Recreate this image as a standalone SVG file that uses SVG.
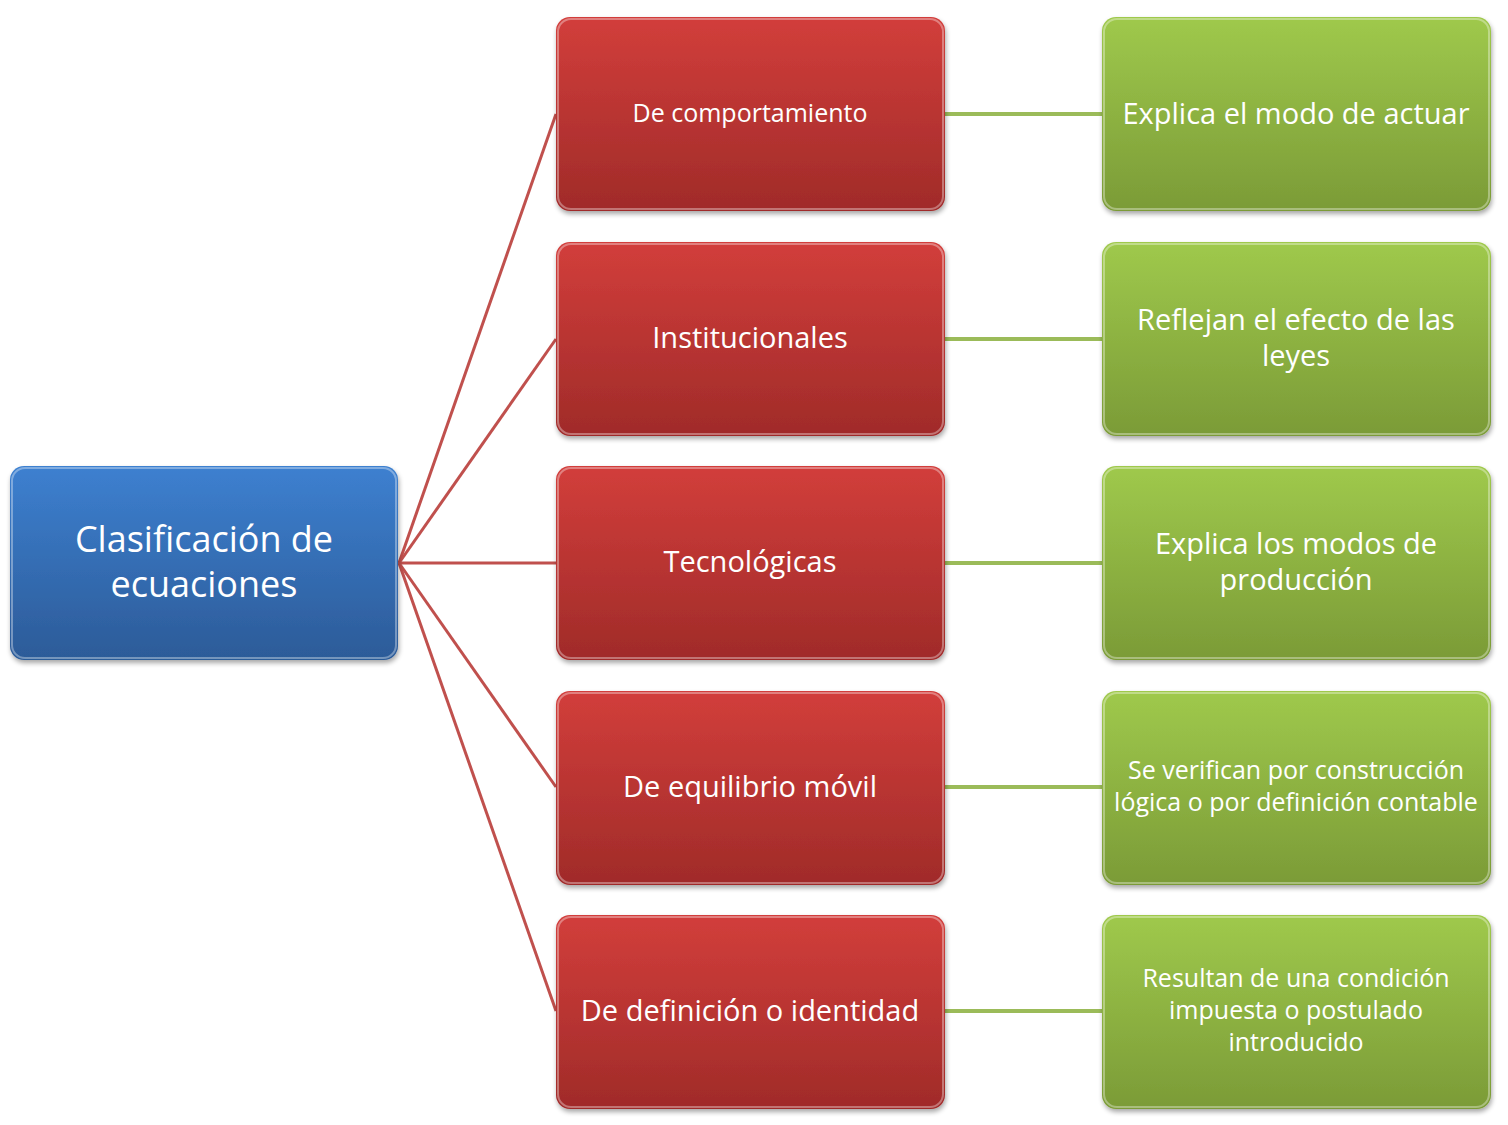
<svg xmlns="http://www.w3.org/2000/svg" width="1508" height="1125" viewBox="0 0 1508 1125">
<defs>
<linearGradient id="gBlue" x1="0" y1="0" x2="0" y2="1"><stop offset="0" stop-color="#3d80d0"/><stop offset="1" stop-color="#2c5b98"/></linearGradient>
<linearGradient id="gRed" x1="0" y1="0" x2="0" y2="1"><stop offset="0" stop-color="#d23e3b"/><stop offset="1" stop-color="#a02b29"/></linearGradient>
<linearGradient id="gGreen" x1="0" y1="0" x2="0" y2="1"><stop offset="0" stop-color="#9fc94c"/><stop offset="1" stop-color="#7b9b37"/></linearGradient>
<filter id="sh" x="-5%" y="-5%" width="112%" height="115%"><feGaussianBlur in="SourceAlpha" stdDeviation="2.5"/><feOffset dx="1" dy="3"/><feComponentTransfer><feFuncA type="linear" slope="0.35"/></feComponentTransfer><feMerge><feMergeNode/><feMergeNode in="SourceGraphic"/></feMerge></filter>
</defs>
<style>
.box{filter:url(#sh)}
.hl{fill:none;stroke:#ffffff;stroke-opacity:0.35;stroke-width:2}
.t{font-family:"Open Sans","Noto Sans","Liberation Sans",sans-serif;fill:#ffffff;text-anchor:middle}
.cr{stroke:#c0504d;stroke-width:3;fill:none}
.cg{stroke:#9bbb59;stroke-width:4;fill:none}
</style>
<g id="connectors">
<line class="cr" x1="399" y1="563" x2="556" y2="114"/>
<line class="cr" x1="399" y1="563" x2="556" y2="339"/>
<line class="cr" x1="399" y1="563" x2="556" y2="563"/>
<line class="cr" x1="399" y1="563" x2="556" y2="787"/>
<line class="cr" x1="399" y1="563" x2="556" y2="1011"/>
<line class="cg" x1="945" y1="114" x2="1102" y2="114"/>
<line class="cg" x1="945" y1="339" x2="1102" y2="339"/>
<line class="cg" x1="945" y1="563" x2="1102" y2="563"/>
<line class="cg" x1="945" y1="787" x2="1102" y2="787"/>
<line class="cg" x1="945" y1="1011" x2="1102" y2="1011"/>
</g>
<g id="root">
<rect class="box" x="10" y="466" width="388" height="194" rx="14" fill="url(#gBlue)"/>
<rect class="hl" x="12" y="468" width="384" height="190" rx="13"/>
<text class="t" x="204" y="552" font-size="36">Clasificación de</text>
<text class="t" x="204" y="597" font-size="36">ecuaciones</text>
</g>
<g id="n1">
<rect class="box" x="556" y="17" width="389" height="194" rx="14" fill="url(#gRed)"/>
<rect class="hl" x="558" y="19" width="385" height="190" rx="13"/>
<text class="t" x="750" y="122" font-size="25">De comportamiento</text>
</g>
<g id="n2">
<rect class="box" x="556" y="242" width="389" height="194" rx="14" fill="url(#gRed)"/>
<rect class="hl" x="558" y="244" width="385" height="190" rx="13"/>
<text class="t" x="750" y="348" font-size="29">Institucionales</text>
</g>
<g id="n3">
<rect class="box" x="556" y="466" width="389" height="194" rx="14" fill="url(#gRed)"/>
<rect class="hl" x="558" y="468" width="385" height="190" rx="13"/>
<text class="t" x="750" y="572" font-size="29">Tecnológicas</text>
</g>
<g id="n4">
<rect class="box" x="556" y="691" width="389" height="194" rx="14" fill="url(#gRed)"/>
<rect class="hl" x="558" y="693" width="385" height="190" rx="13"/>
<text class="t" x="750" y="797" font-size="29">De equilibrio móvil</text>
</g>
<g id="n5">
<rect class="box" x="556" y="915" width="389" height="194" rx="14" fill="url(#gRed)"/>
<rect class="hl" x="558" y="917" width="385" height="190" rx="13"/>
<text class="t" x="750" y="1021" font-size="29">De definición o identidad</text>
</g>
<g id="g1">
<rect class="box" x="1102" y="17" width="389" height="194" rx="14" fill="url(#gGreen)"/>
<rect class="hl" x="1104" y="19" width="385" height="190" rx="13"/>
<text class="t" x="1296" y="124" font-size="29">Explica el modo de actuar</text>
</g>
<g id="g2">
<rect class="box" x="1102" y="242" width="389" height="194" rx="14" fill="url(#gGreen)"/>
<rect class="hl" x="1104" y="244" width="385" height="190" rx="13"/>
<text class="t" x="1296" y="330" font-size="29">Reflejan el efecto de las</text>
<text class="t" x="1296" y="366" font-size="29">leyes</text>
</g>
<g id="g3">
<rect class="box" x="1102" y="466" width="389" height="194" rx="14" fill="url(#gGreen)"/>
<rect class="hl" x="1104" y="468" width="385" height="190" rx="13"/>
<text class="t" x="1296" y="554" font-size="29">Explica los modos de</text>
<text class="t" x="1296" y="590" font-size="29">producción</text>
</g>
<g id="g4">
<rect class="box" x="1102" y="691" width="389" height="194" rx="14" fill="url(#gGreen)"/>
<rect class="hl" x="1104" y="693" width="385" height="190" rx="13"/>
<text class="t" x="1296" y="779" font-size="25">Se verifican por construcción</text>
<text class="t" x="1296" y="811" font-size="25">lógica o por definición contable</text>
</g>
<g id="g5">
<rect class="box" x="1102" y="915" width="389" height="194" rx="14" fill="url(#gGreen)"/>
<rect class="hl" x="1104" y="917" width="385" height="190" rx="13"/>
<text class="t" x="1296" y="987" font-size="25">Resultan de una condición</text>
<text class="t" x="1296" y="1019" font-size="25">impuesta o postulado</text>
<text class="t" x="1296" y="1051" font-size="25">introducido</text>
</g>
</svg>
